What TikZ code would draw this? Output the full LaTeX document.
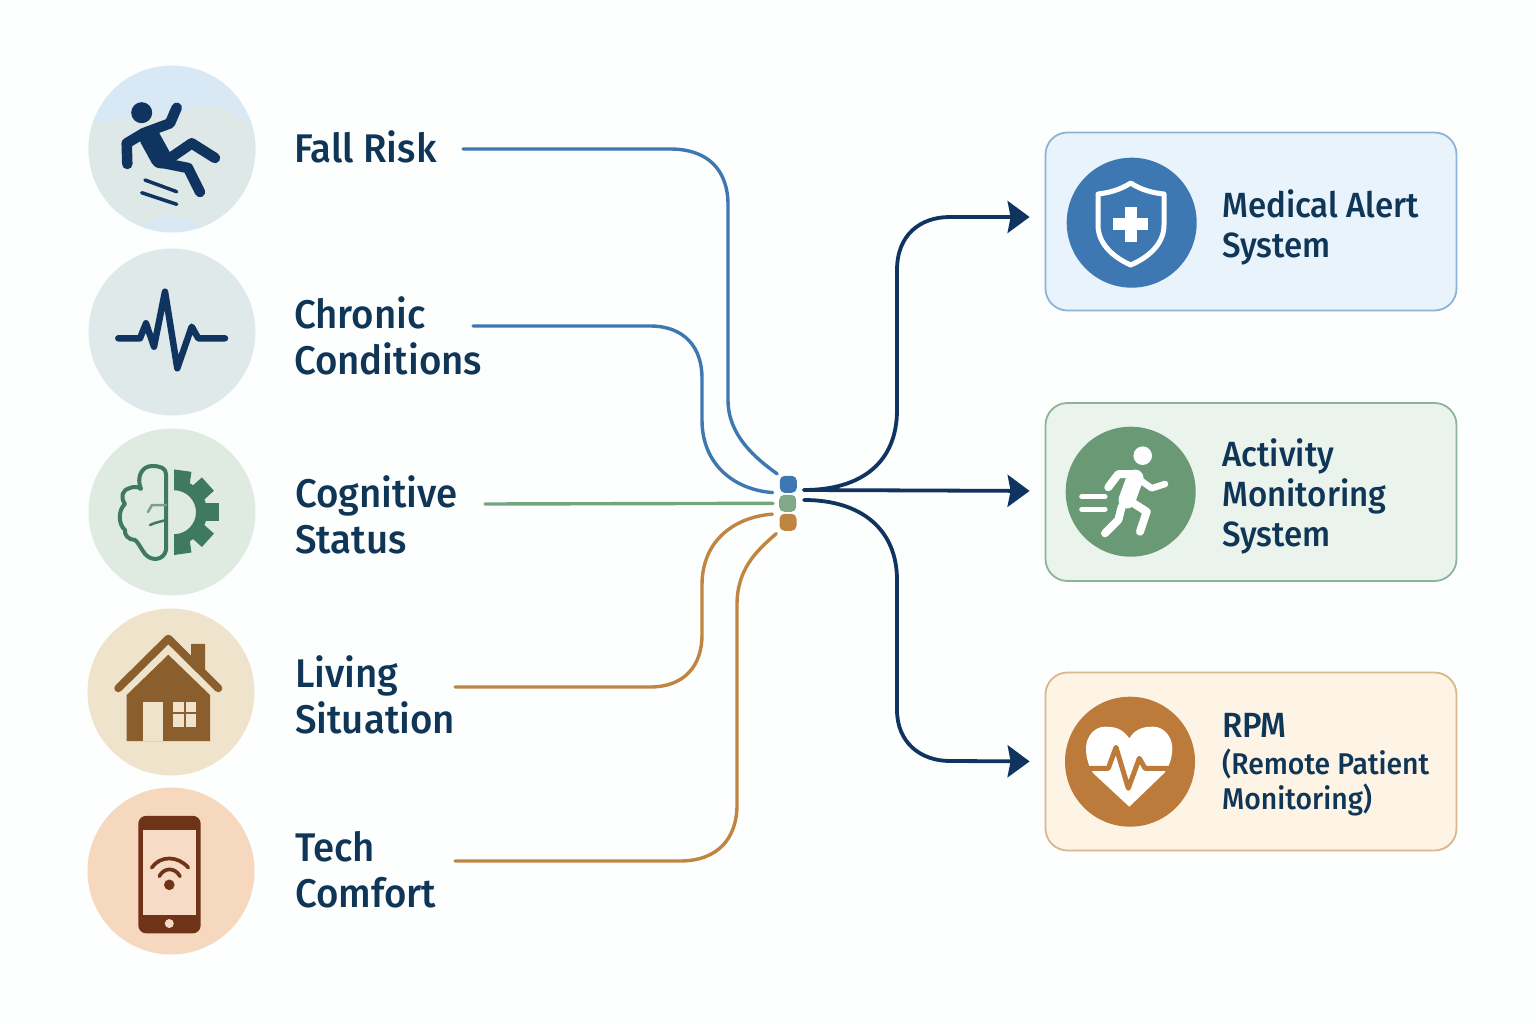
\documentclass[tikz,border=0pt]{standalone}
\usepackage{fontspec}
\setmainfont{Fira Sans Medium}[FakeStretch=0.96]
\newfontfamily\narrowfont{Fira Sans Medium}[FakeStretch=0.945]
\usepackage{tikz}
\usetikzlibrary{arrows.meta, positioning}
\definecolor{bgwhite}{HTML}{FDFEFE}
\definecolor{navy}{HTML}{0F3460}
\definecolor{inkblue}{HTML}{0F3557}
\definecolor{linkblue}{HTML}{3E78B2}
\definecolor{linkgreen}{HTML}{74A57F}
\definecolor{linkorange}{HTML}{C08540}
\definecolor{leaf}{HTML}{3F7A5E}
\definecolor{umber}{HTML}{8B5E2E}
\definecolor{rust}{HTML}{6F3318}
\definecolor{sand}{HTML}{F0E3CC}
\definecolor{peach}{HTML}{F6DCC6}
\definecolor{ochre}{HTML}{BC7B3A}
\tikzset{
    factor/.style={circle,inner sep=0,minimum size=167pt},
    factortext/.style={anchor=west,align=left,inner sep=0,text=inkblue,font=\fontsize{40}{46}\selectfont},
    systemtext/.style={anchor=west,align=left,inner sep=0,text=inkblue,font=\narrowfont\fontsize{35}{40}\selectfont},
    subtext/.style={anchor=west,align=left,inner sep=0,text=inkblue,font=\narrowfont\fontsize{30}{35}\selectfont},
    systembox/.style={rectangle,rounded corners=22pt,inner sep=0,minimum width=411pt,minimum height=178pt,line width=1.8pt},
    systemdisc/.style={circle,inner sep=0,minimum size=130pt},
    hub/.style={rectangle,rounded corners=5pt,inner sep=0,minimum size=17pt},
    feed/.style={line width=3.4pt,line cap=round},
    output/.style={navy,line width=3.8pt,line cap=round,-{Stealth[length=22pt,width=32pt,inset=3pt]},shorten >=15pt},
    glyph/.style={line cap=round,line join=round}}
\begin{document}
\begin{tikzpicture}[x=1pt,y=-1pt]
\path[fill=bgwhite,use as bounding box] (0,0) rectangle (1536,1024);

% factor discs
\node[factor,fill={rgb,255:red,216;green,232;blue,244}] (falldisc) at (172,149) {};
\begin{scope}
\clip (172,149) circle (83.5);
\fill[color={rgb,255:red,222;green,232;blue,230}] (88,125) .. controls (110,118) and (150,120) .. (190,110) .. controls (205,104) and (225,100) .. (260,135) -- (260,235) -- (205,235) .. controls (190,212) and (165,212) .. (140,226) .. controls (125,215) and (105,205) .. (88,195) -- cycle;
\end{scope}
\node[factor,fill={rgb,255:red,224;green,233;blue,234}] (chronicdisc) at (172,332) {};
\node[factor,fill={rgb,255:red,223;green,235;blue,224}] (cogdisc) at (172,512) {};
\node[factor,fill=sand] (livingdisc) at (171,692) {};
\node[factor,fill={rgb,255:red,246;green,216;blue,191}] (techdisc) at (171,871) {};

% falling figure
\fill[navy] (141.7,112.7) circle (10.5);
\draw[glyph,navy,line width=10.5pt] (176.7,107.7) -- (170,123.3) -- (143.3,133.3) -- (126.7,143.3) -- (127.3,164);
\draw[glyph,navy,line width=21pt] (150,138) -- (161,158);
\draw[glyph,navy,line width=10.5pt] (163,163) -- (191.7,143.3) -- (215,158);
\draw[glyph,navy,line width=10.5pt] (163,163) -- (188,168) -- (200,192);
\draw[glyph,navy,line width=3.5pt] (145,180) -- (176.7,191.7);
\draw[glyph,navy,line width=3.5pt] (141.7,192.7) -- (176.7,204.3);

% pulse
\draw[glyph,navy,line width=6.5pt] (118.3,338.3) -- (140,338.3) -- (146,323.3) -- (154,346.7) -- (165,291.7) -- (177.3,368.3) -- (191.7,326.7) -- (198.3,338.3) -- (225,338.3);

% brain and gear
\begin{scope}[yshift=-2pt]
\draw[glyph,leaf,line width=4pt] (166,472) -- (166,548) .. controls (164,558) and (152,560) .. (145,552) .. controls (140,545) and (138,540) .. (135,538) .. controls (128,538) and (124,532) .. (125,528) .. controls (118,522) and (118,508) .. (125,502) .. controls (120,495) and (122,488) .. (130,486) .. controls (134,484) and (139,485) .. (141,487) .. controls (136,475) and (142,464) .. (152,464) .. controls (160,464) and (166,466) .. (166,472);
\draw[glyph,leaf!70!white,line width=2.5pt] (166,503) -- (152,503) -- (148,510);
\draw[glyph,leaf,line width=2.5pt] (166,518) -- (155,521) -- (150,523);
\end{scope}
\begin{scope}[shift={(176.7,512.2)},x=1pt,y=1pt]
\clip (-2.7,-60) rectangle (60,60);
\fill[leaf] (-2.7,33) arc (90:-90:33) -- (-2.7,-22) arc (-90:90:22) -- cycle;
\foreach \a in {82,42,0,-42,-82} {
  \fill[leaf,rotate=\a] (26,-9) rectangle (42,9);
}
\end{scope}

% house
\draw[glyph,umber,line width=8pt] (118.3,688.2) -- (168.3,638.7) -- (218.3,688.2);
\fill[umber] (191,643.8) -- (205,643.8) -- (205,671.2) -- (191,657.5) -- cycle;
\fill[umber] (168.3,654.7) -- (210,695) -- (210,741.2) -- (126.7,741.2) -- (126.7,695) -- cycle;
\fill[sand] (143.3,701.9) rectangle (162.7,741.2);
\fill[sand] (173.3,701.9) rectangle (183.7,712.2);
\fill[sand] (185.7,701.9) rectangle (196,712.2);
\fill[sand] (173.3,714.2) rectangle (183.7,726.5);
\fill[sand] (185.7,714.2) rectangle (196,726.5);

% phone
\fill[rust,rounded corners=8pt] (138.3,815.8) rectangle (200.7,933.4);
\fill[peach] (143.3,830.1) rectangle (196,914.6);
\fill[peach] (169.3,923.5) circle (4.5);
\fill[rust] (169.3,884.8) circle (5.3);
\draw[glyph,rust,line width=3.7pt] (151.7,867.7) .. controls (160,855.4) and (178,855.4) .. (188.3,867.7);
\draw[glyph,rust,line width=3.7pt] (159.3,876.3) .. controls (164,867.1) and (175,867.1) .. (180,876.3);

% factor labels
\node[factortext] (fallrisk) at (294,147) {Fall Risk};
\node[factortext] (chronic) at (294,336) {Chronic\\Conditions};
\node[factortext] (cognitive) at (295,515) {Cognitive\\Status};
\node[factortext] (living) at (295,695) {Living\\Situation};
\node[factortext] (tech) at (295,870) {Tech\\Comfort};

% system boxes
\node[systembox,draw={rgb,255:red,141;green,180;blue,216},fill={rgb,255:red,232;green,243;blue,251}] (alertbox) at (1251,221.5) {};
\node[systembox,draw={rgb,255:red,141;green,179;blue,154},fill={rgb,255:red,235;green,244;blue,236}] (activitybox) at (1251,492) {};
\node[systembox,draw={rgb,255:red,216;green,184;blue,140},fill={rgb,255:red,253;green,244;blue,230}] (rpmbox) at (1251,761.5) {};

\node[systemdisc,fill=linkblue] (alertdisc) at (1131.7,222.7) {};
\node[systemdisc,fill={rgb,255:red,106;green,154;blue,117}] (activitydisc) at (1130.7,491.7) {};
\node[systemdisc,fill=ochre] (rpmdisc) at (1130,761.7) {};

% shield
\draw[glyph,white,line width=5pt] (1130.7,183) .. controls (1120,190) and (1108,193) .. (1098,194) -- (1098,225) .. controls (1098,245) and (1115,258) .. (1130.7,265) .. controls (1147,258) and (1164,245) .. (1164,225) -- (1164,194) .. controls (1153,193) and (1141,190) .. (1130.7,183) -- cycle;
\draw[white,line width=12pt] (1113.2,224.3) -- (1148.2,224.3);
\draw[white,line width=12pt] (1130.7,206.8) -- (1130.7,241.8);

% runner
\fill[white] (1142.7,455.7) circle (9.3);
\draw[glyph,white,line width=8pt] (1108.3,487.3) -- (1118.3,474) -- (1135,474);
\draw[glyph,white,line width=6.5pt] (1140,480) -- (1151.7,488.3) -- (1165,484);
\draw[glyph,white,line width=17pt] (1135,478) -- (1127,500);
\draw[glyph,white,line width=8pt] (1128.3,500) -- (1146.7,511.7) -- (1140,531.7);
\draw[glyph,white,line width=8pt] (1121.7,506.7) -- (1118.3,520) -- (1105,533.3);
\draw[glyph,white,line width=5pt] (1081.7,496.7) -- (1105,496.7);
\draw[glyph,white,line width=5pt] (1081.7,509.3) -- (1105,509.3);

% heart
\fill[white] (1129.3,738.3) .. controls (1122,728) and (1114,726.7) .. (1105,726.7) .. controls (1094,726.7) and (1086,737) .. (1086,748.3) .. controls (1086,758) and (1089,767) .. (1093.3,773.3) -- (1129.3,806.7) -- (1164,773.3) .. controls (1169,767) and (1172.3,758) .. (1172.3,748.3) .. controls (1172.3,737) and (1164,726.7) .. (1153.3,726.7) .. controls (1144,726.7) and (1136,728) .. (1129.3,738.3) -- cycle;
\draw[glyph,ochre,line width=5pt] (1090,768.3) -- (1108.3,768.3) -- (1116,747.3) -- (1128.3,788.3) -- (1139.3,758.3) -- (1145,768.3) -- (1170,768.3);

% system labels
\node[systemtext] (alertlabel) at (1222,227) {Medical Alert\\System};
\node[systemtext] (activitylabel) at (1222,496) {Activity\\Monitoring\\System};
\node[systemtext] (rpmlabel) at (1222,725) {RPM};
\node[subtext] (rpmsub) at (1222,782) {(Remote Patient\\Monitoring)};

% hub
\node[hub,fill=linkblue] (hubblue) at (788.3,484.3) {};
\node[hub,fill={rgb,255:red,127;green,169;blue,138}] (hubgreen) at (787.7,503.3) {};
\node[hub,fill=linkorange] (huborange) at (788,522.3) {};
\coordinate (hubtop) at (804,490);
\coordinate (hubbottom) at (804,500);

% free ends of the feeds
\coordinate (fallout) at (463,149);
\coordinate (chronicout) at (473,326);
\coordinate (cogout) at (485,504);
\coordinate (livingout) at (455,687);
\coordinate (techout) at (455,861);

% feeds
\draw[feed,linkblue,shorten >=3pt] (fallout) -- (670,149) .. controls (708,149) and (728,170) .. (728,205) -- (728,400) .. controls (728,435) and (755,458) .. (hubblue.north west);
\draw[feed,linkblue,shorten >=7pt] (chronicout) -- (650,326) .. controls (685,326) and (702,348) .. (702,378) -- (702,420) .. controls (702,465) and (735,490) .. (hubblue.south west);
\draw[feed,linkgreen,shorten >=6pt] (cogout) -- (hubgreen.west);
\draw[feed,linkorange,shorten >=7pt] (livingout) -- (650,687) .. controls (685,687) and (702,665) .. (702,635) -- (702,585) .. controls (702,540) and (735,517) .. (huborange.north west);
\draw[feed,linkorange,shorten >=4pt] (techout) -- (680,861) .. controls (718,861) and (737,838) .. (737,805) -- (737,605) .. controls (737,570) and (755,552) .. (huborange.south west);

% outputs
\draw[output] (hubtop) .. controls (862,490) and (897,462) .. (897,410) -- (897,270) .. controls (897,235) and (920,217) .. (950,217) -- ([yshift=4.5pt]alertbox.west);
\draw[output] (hubtop) -- ([yshift=1pt]activitybox.west);
\draw[output] (hubbottom) .. controls (862,500) and (897,530) .. (897,580) -- (897,710) .. controls (897,742) and (920,761) .. (950,761) -- (rpmbox.west);
\end{tikzpicture}
\end{document}
